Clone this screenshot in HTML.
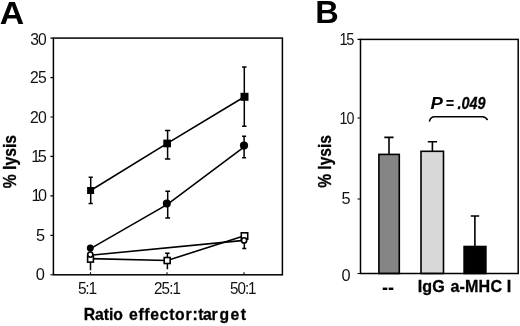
<!DOCTYPE html>
<html><head><meta charset="utf-8">
<style>
html,body{margin:0;padding:0;background:#fff;}
svg{display:block;}
text{font-family:"Liberation Sans",sans-serif;fill:#000;}
</style></head>
<body>
<svg width="520" height="326" viewBox="0 0 520 326">
<rect width="520" height="326" fill="#fff"/>
<rect x="53.4" y="38.1" width="229.0" height="236.7" fill="none" stroke="#000" stroke-width="1.5"/>
<path d="M50.4 274.8H53.4M50.4 235.4H53.4M50.4 195.9H53.4M50.4 156.4H53.4M50.4 117.0H53.4M50.4 77.6H53.4M50.4 38.1H53.4M90.5 274.8v-2.6M167.0 274.8v-2.6M244.0 274.8v-2.6" stroke="#000" stroke-width="1.1" fill="none"/>
<path d="M90.7 177.2V203.5M88.60000000000001 177.2h4.2M88.60000000000001 203.5h4.2M167.6 130.6V159.1M164.9 130.6h5.4M164.9 159.1h5.4M244.3 67.0V126.2M242.10000000000002 67.0h4.4M242.10000000000002 126.2h4.4M167.7 191.3V218.0M165.29999999999998 191.3h4.8M165.29999999999998 218.0h4.8M244.1 136.2V157.8M242.1 136.2h4.0M242.1 157.8h4.0M90.5 246.0V270.2M167.4 253.3V269.2M165.1 253.3h4.6M244.3 232.0V248.6M242.3 248.6h4.0" stroke="#000" stroke-width="1.5" fill="none"/>
<g stroke="#000" stroke-width="1.6" fill="none">
<polyline points="90.6,190.5 167.2,143.4 244.5,96.8"/>
<polyline points="90.5,248.6 167.4,204.4 244.2,146.9"/>
<polyline points="90.5,258.6 167.2,260.5 244.4,235.8"/>
<polyline points="90.4,255.2 244.1,240.4"/>
</g>
<g fill="#000">
<rect x="87.1" y="187.0" width="7.0" height="7.0"/>
<rect x="163.3" y="139.6" width="7.7" height="7.7"/>
<rect x="240.5" y="92.8" width="8.0" height="8.0"/>
<circle cx="90.3" cy="248.1" r="3.5"/>
<circle cx="166.8" cy="203.5" r="4.0"/>
<circle cx="244.0" cy="145.6" r="4.1"/>
</g>
<g fill="#fff" stroke="#000" stroke-width="1.6">
<rect x="87.6" y="256.3" width="5.8" height="5.8"/>
<rect x="164.2" y="257.5" width="6.0" height="6.0"/>
<rect x="241.3" y="232.8" width="6.4" height="6.4"/>
<circle cx="90.3" cy="254.6" r="2.6"/>
<circle cx="244.1" cy="240.4" r="2.6"/>
</g>
<g stroke="#000" stroke-width="1.6">
<rect x="378.9" y="154.4" width="20.4" height="119.1" fill="#858585"/>
<rect x="421.0" y="151.3" width="22.5" height="122.2" fill="#d8d8d8"/>
<rect x="464.1" y="246.5" width="21.8" height="27.0" fill="#000"/>
</g>
<path d="M389 154V137.4M384.3 137.4h9.3M432.4 151V141.7M427.8 141.7h9.3M474.9 246V216M470.8 216h8.4" stroke="#000" stroke-width="1.6" fill="none"/>
<rect x="360.5" y="39.4" width="157.7" height="234.1" fill="none" stroke="#000" stroke-width="1.5"/>
<path d="M357.5 39.4H360.5M357.5 118.0H360.5M357.5 199.0H360.5M357.5 273.5H360.5" stroke="#000" stroke-width="1.1" fill="none"/>
<path d="M429.4 121.6C430 118.3 431.6 116.7 434.6 116.7H482.6C484.6 116.7 486.2 117.8 487.6 120" fill="none" stroke="#000" stroke-width="1.5"/>
<g opacity="0.999">
<text transform="translate(0,319.78) scale(0.9855,1.0597)" font-size="16" style="font-weight:bold;stroke:#000;stroke-width:0.3;fill:#000"><tspan x="84.93" letter-spacing="-0.050">Ratio </tspan><tspan x="130.85" letter-spacing="0.696">effector</tspan><tspan x="195.25" letter-spacing="0.000">:</tspan><tspan x="201.24" letter-spacing="-0.482">tar</tspan><tspan x="222.80" letter-spacing="1.421">get</tspan></text>
<text transform="translate(-0.30,23.50) scale(2.1160,1.9909)" font-size="16" style="font-weight:bold;fill:#000">A</text>
<text transform="translate(315.20,23.20) scale(2.0352,1.9545)" font-size="16" style="font-weight:bold;fill:#000">B</text>
<text transform="translate(30.18,44.80) scale(0.9791,1.0307)" font-size="16" letter-spacing="-0.820" style="fill:#111">30</text>
<text transform="translate(30.02,82.67) scale(0.9831,1.0348)" font-size="16" letter-spacing="-0.667" style="fill:#111">25</text>
<text transform="translate(30.02,122.80) scale(0.9873,1.0393)" font-size="16" letter-spacing="-0.913" style="fill:#111">20</text>
<text transform="translate(31.30,162.43) scale(1.0177,1.0712)" font-size="16" letter-spacing="-2.446" style="fill:#111">15</text>
<text transform="translate(31.45,201.23) scale(1.0124,1.0657)" font-size="16" letter-spacing="-2.465" style="fill:#111">10</text>
<text transform="translate(35.95,240.93) scale(1.0205,1.0712)" font-size="16" style="fill:#111">5</text>
<text transform="translate(35.80,280.47) scale(1.0271,1.0348)" font-size="16" style="fill:#111">0</text>
<text transform="translate(77.95,294.45) scale(0.9711,1.0222)" font-size="16" letter-spacing="-1.261" style="fill:#111">5:1</text>
<text transform="translate(153.95,294.45) scale(0.9500,1.0000)" font-size="16" letter-spacing="-0.860" style="fill:#111">25:1</text>
<text transform="translate(229.95,294.45) scale(0.9500,1.0000)" font-size="16" letter-spacing="-1.035" style="fill:#111">50:1</text>
<text transform="translate(16.30,188.30) rotate(-90) scale(0.9824,1.1628)" font-size="16" style="font-weight:bold;stroke:#000;stroke-width:0.3;fill:#000">% lysis</text>
<text transform="translate(331.30,187.80) rotate(-90) scale(0.9730,1.1628)" font-size="16" style="font-weight:bold;stroke:#000;stroke-width:0.3;fill:#000">% lysis</text>
<text transform="translate(339.55,45.08) scale(0.9136,1.0624)" font-size="16" letter-spacing="-1.595" style="fill:#111">15</text>
<text transform="translate(339.47,124.15) scale(0.8938,1.0393)" font-size="16" letter-spacing="-1.012" style="fill:#111">10</text>
<text transform="translate(341.45,203.57) scale(1.0205,1.0624)" font-size="16" style="fill:#111">5</text>
<text transform="translate(341.45,281.15) scale(1.0205,1.0393)" font-size="16" style="fill:#111">0</text>
<text transform="translate(381.97,293.50) scale(1.1428,1.2639)" font-size="16" style="font-weight:bold;fill:#000">--</text>
<text transform="translate(417.82,292.48) scale(1.0071,1.0829)" font-size="16" letter-spacing="0.076" style="font-weight:bold;stroke:#000;stroke-width:0.3;fill:#000">IgG</text>
<text transform="translate(450.42,292.48) scale(1.0071,1.0829)" font-size="16" letter-spacing="0.149" style="font-weight:bold;stroke:#000;stroke-width:0.3;fill:#000">a-MHC I</text>
<text transform="translate(430.60,108.88) scale(1.1610,1.0819)" font-size="16" style="font-weight:bold;font-style:italic;fill:#000">P</text>
<text transform="translate(445.55,108.58) scale(0.9072,0.9922)" font-size="16" style="font-weight:bold;font-style:italic;fill:#000">=</text>
<text transform="translate(457.62,108.50) scale(0.8990,1.0393)" font-size="16" style="font-weight:bold;stroke:#000;stroke-width:0.3;font-style:italic;fill:#000">.049</text>
</g>
</svg>
</body></html>
